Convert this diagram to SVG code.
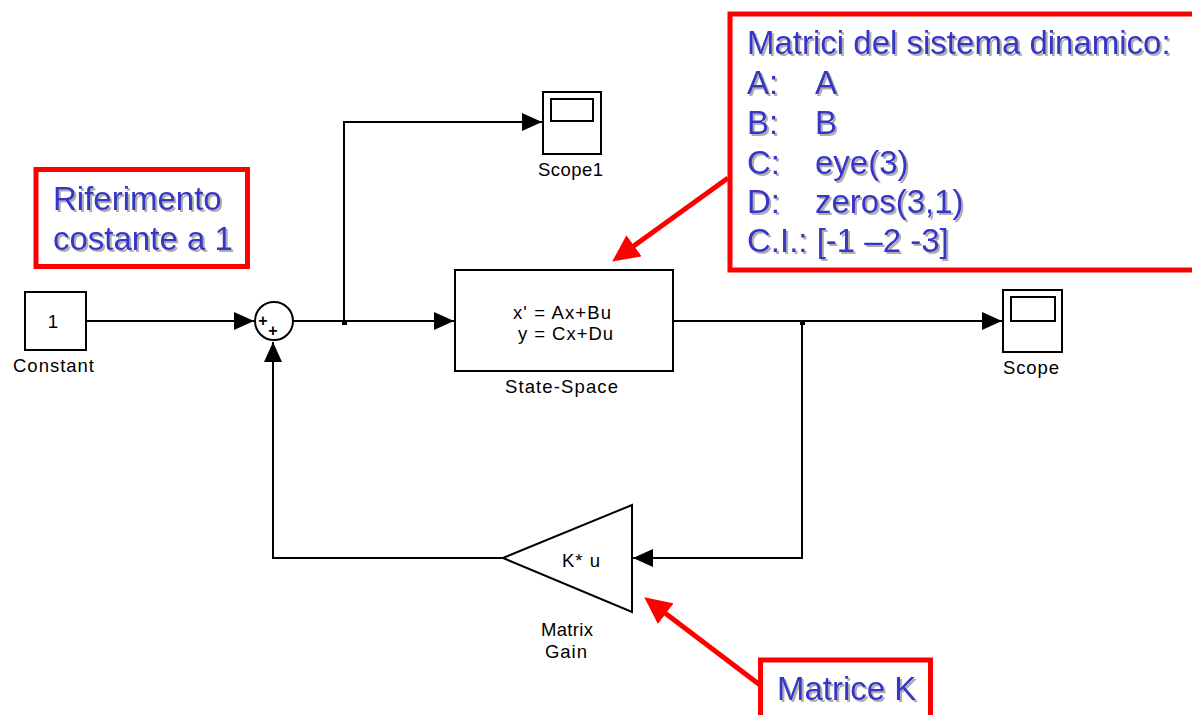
<svg xmlns="http://www.w3.org/2000/svg" width="1192" height="715" viewBox="0 0 1192 715">
<defs>
<style>
.blk{fill:#fff;stroke:#000;stroke-width:2}
.wire{fill:none;stroke:#000;stroke-width:2}
.lbl{font-family:"Liberation Sans",Arial,Helvetica,sans-serif;font-size:18.5px;fill:#000}
.note{fill:none;stroke:#ff0000;stroke-width:5}
.big{font-family:"Liberation Sans",Arial,Helvetica,sans-serif;font-size:33px;fill:#3535c8}
.red{fill:none;stroke:#ff0000;stroke-width:5}
</style>
<marker id="ah" markerUnits="userSpaceOnUse" markerWidth="20" markerHeight="18" refX="20" refY="9" orient="auto">
<path d="M0,0 L20,9 L0,18 Z" fill="#000"/>
</marker>
<marker id="rh" markerUnits="userSpaceOnUse" markerWidth="27" markerHeight="26" refX="6" refY="13" orient="auto">
<path d="M0,0 L27,13 L0,26 Z" fill="#ff0000"/>
</marker>
<filter id="sh" x="-5%" y="-20%" width="110%" height="140%">
<feDropShadow dx="2" dy="2" stdDeviation="0.6" flood-color="#9a9a9a" flood-opacity="0.8"/>
</filter>
</defs>
<rect width="1192" height="715" fill="#fff"/>

<g id="connectors">
<path class="wire" d="M86,321 H254" marker-end="url(#ah)"/>
<path class="wire" d="M293,321 H454" marker-end="url(#ah)"/>
<path class="wire" d="M344,321 V122 H542" marker-end="url(#ah)"/>
<path class="wire" d="M673,321 H1002" marker-end="url(#ah)"/>
<path class="wire" d="M802,321 V558 H633" marker-end="url(#ah)"/>
<path class="wire" d="M503,558 H273 V342" marker-end="url(#ah)"/>
<rect x="342" y="320" width="5" height="5" fill="#000"/>
<rect x="800" y="320" width="5" height="5" fill="#000"/>
</g>

<g id="constant">
<rect class="blk" x="25" y="292" width="61" height="58"/>
<text class="lbl" x="53" y="328" text-anchor="middle">1</text>
<text class="lbl" x="13" y="372" textLength="81">Constant</text>
</g>

<g id="sum">
<circle class="blk" cx="274" cy="321" r="19"/>
<text class="lbl" x="263" y="325.5" text-anchor="middle" style="font-size:16px;font-weight:bold">+</text>
<text class="lbl" x="273" y="335.5" text-anchor="middle" style="font-size:16px;font-weight:bold">+</text>
</g>

<g id="scope1">
<rect class="blk" x="543" y="92" width="58" height="62"/>
<rect class="blk" x="551" y="99" width="42" height="22"/>
<text class="lbl" x="538" y="176" textLength="65">Scope1</text>
</g>

<g id="state-space">
<rect class="blk" x="455" y="270" width="218" height="101"/>
<text class="lbl" x="513" y="319" textLength="98">x' = Ax+Bu</text>
<text class="lbl" x="518" y="340" textLength="95">y = Cx+Du</text>
<text class="lbl" x="505" y="393" textLength="113">State-Space</text>
</g>

<g id="scope">
<rect class="blk" x="1003" y="290" width="59" height="62"/>
<rect class="blk" x="1011" y="297" width="44" height="24"/>
<text class="lbl" x="1003" y="374" textLength="56">Scope</text>
</g>

<g id="matrix-gain">
<path class="blk" d="M503,558 L632,505 L632,612 Z"/>
<text class="lbl" x="562" y="567" textLength="38">K* u</text>
<text class="lbl" x="541" y="636" textLength="52">Matrix</text>
<text class="lbl" x="545" y="658" textLength="42">Gain</text>
</g>

<g id="note-riferimento">
<rect class="note" x="36" y="169.5" width="211.5" height="97"/>
<text class="big" filter="url(#sh)"><tspan x="53" y="210">Riferimento</tspan><tspan x="53" y="250">costante a 1</tspan></text>
</g>

<g id="note-matrici">
<rect class="note" x="730" y="14" width="480" height="256"/>
<text class="big" filter="url(#sh)">
<tspan x="747" y="54">Matrici del sistema dinamico:</tspan>
<tspan x="747" y="94">A:</tspan><tspan x="815" y="94">A</tspan>
<tspan x="747" y="134">B:</tspan><tspan x="815" y="134">B</tspan>
<tspan x="747" y="174">C:</tspan><tspan x="815" y="174">eye(3)</tspan>
<tspan x="747" y="213">D:</tspan><tspan x="815" y="213">zeros(3,1)</tspan>
<tspan x="747" y="252">C.I.: [-1 –2 -3]</tspan>
</text>
<path class="red" d="M728,178 L629.2,249.3" marker-end="url(#rh)"/>
</g>

<g id="note-matriceK">
<rect class="note" x="760.5" y="660" width="170" height="80"/>
<text class="big" x="777" y="700" filter="url(#sh)">Matrice K</text>
<path class="red" d="M760,685 L661,610" marker-end="url(#rh)"/>
</g>
</svg>
